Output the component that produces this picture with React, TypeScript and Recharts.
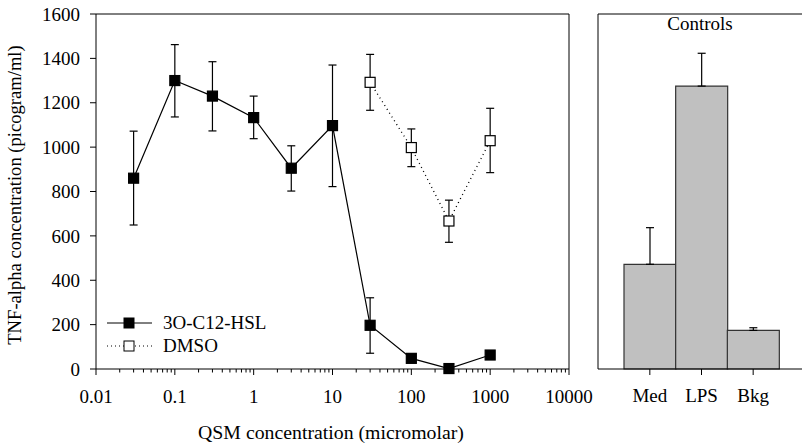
import {
    Bar,
    BarChart,
    ComposedChart,
    ErrorBar,
    Line,
    ReferenceLine,
    XAxis,
    YAxis,
} from "recharts";

// QSM concentrations (micromolar)
const hslConc = [0.03, 0.1, 0.3, 1, 3, 10, 30, 100, 300, 1000];
const hslMean = [860, 1300, 1230, 1133, 905, 1097, 197, 48, 2, 63];
const hslUpper = [1072, 1462, 1385, 1230, 1006, 1370, 321, 48, 2, 63];
const hslLower = [649, 1136, 1073, 1038, 802, 822, 71, 48, 2, 63];

const dmsoConc = [30, 100, 300, 1000];
const dmsoMean = [1292, 998, 667, 1029];
const dmsoUpper = [1418, 1082, 761, 1175];
const dmsoLower = [1166, 912, 571, 885];

const controlNames = ["Med", "LPS", "Bkg"];
const controlMean = [472, 1275, 174];
const controlUpper = [637, 1423, 186];

const yTicks = [0, 200, 400, 600, 800, 1000, 1200, 1400, 1600];
const xMajor = [0.01, 0.1, 1, 10, 100, 1000, 10000];
const xMajorLabels = ["0.01", "0.1", "1", "10", "100", "1000", "10000"];

const FONT = "Liberation Serif";

const xTicks = xMajor.flatMap((d, i) =>
    i === xMajor.length - 1 ? [d] : [1, 2, 3, 4, 5, 6, 7, 8, 9].map((m) => Number((m * d).toPrecision(3)))
);

const hslData = hslConc.map((c, i) => ({
    x: c,
    y: hslMean[i],
    err: [hslMean[i] - hslLower[i], hslUpper[i] - hslMean[i]],
}));

const dmsoData = dmsoConc.map((c, i) => ({
    x: c,
    y: dmsoMean[i],
    err: [dmsoMean[i] - dmsoLower[i], dmsoUpper[i] - dmsoMean[i]],
}));

const controlData = controlNames.map((n, i) => ({
    name: n,
    value: controlMean[i],
    err: [0, controlUpper[i] - controlMean[i]],
}));

const txt = { fontSize: 19, fontFamily: FONT, fill: "#000" };

function SquareDot({ cx, cy, fill }: { cx?: number; cy?: number; fill: string }) {
    if (cx == null || cy == null) return null;
    return <rect x={cx - 5} y={cy - 5} width={10} height={10} fill={fill} stroke="#000" strokeWidth={1.2} />;
}

function LogTick(props: any) {
    const { x, y, payload } = props;
    const idx = xMajor.findIndex((v) => Math.abs(v - payload.value) / v < 1e-6);
    const major = idx >= 0;
    return (
        <g>
            <line x1={x} x2={x} y1={y} y2={y + (major ? 6 : 3.5)} stroke="#000" />
            {major && (
                <text x={x} y={y + 34} textAnchor="middle" {...txt}>
                    {xMajorLabels[idx]}
                </text>
            )}
        </g>
    );
}

export default function App() {
    return (
        <div
            style={{
                position: "absolute",
                left: 0,
                top: 0,
                width: 802,
                height: 447,
                background: "#fff",
                overflow: "hidden",
                fontFamily: FONT,
            }}
        >
            <div style={{ position: "absolute", left: 0, top: 0 }}>
                <ComposedChart width={600} height={447} margin={{ top: 14, right: 31, left: 0, bottom: 0 }}>
                    <XAxis
                        dataKey="x"
                        type="number"
                        scale="log"
                        domain={[0.01, 10000]}
                        ticks={xTicks}
                        interval={0}
                        allowDataOverflow
                        tickLine={false}
                        tickSize={0}
                        tickMargin={0}
                        tick={<LogTick />}
                        height={78}
                        stroke="#000"
                    />
                    <YAxis
                        type="number"
                        domain={[0, 1600]}
                        ticks={yTicks}
                        interval={0}
                        width={96}
                        tickSize={6}
                        tickMargin={10}
                        stroke="#000"
                        tick={txt}
                    />
                    <ReferenceLine y={1600} stroke="#000" />
                    <ReferenceLine x={10000} stroke="#000" />
                    <Line
                        data={dmsoData}
                        dataKey="y"
                        stroke="#000"
                        strokeWidth={1.3}
                        strokeDasharray="1 3.5"
                        dot={<SquareDot fill="#fff" />}
                        activeDot={false}
                        isAnimationActive={false}
                    >
                        <ErrorBar dataKey="err" direction="y" width={4} stroke="#000" strokeWidth={1.2} />
                    </Line>
                    <Line
                        data={hslData}
                        dataKey="y"
                        stroke="#000"
                        strokeWidth={1.2}
                        dot={<SquareDot fill="#000" />}
                        activeDot={false}
                        isAnimationActive={false}
                    >
                        <ErrorBar dataKey="err" direction="y" width={4} stroke="#000" strokeWidth={1.2} />
                    </Line>
                    {/* legend */}
                    <g>
                        <line x1={107} x2={152} y1={323} y2={323} stroke="#000" />
                        <rect x={124} y={318} width={10} height={10} fill="#000" stroke="#000" />
                        <text x={163} y={329} {...txt}>3O-C12-HSL</text>
                        <line x1={107} x2={152} y1={346} y2={346} stroke="#000" strokeDasharray="1 3" />
                        <rect x={124} y={341} width={10} height={10} fill="#fff" stroke="#000" />
                        <text x={163} y={352} {...txt}>DMSO</text>
                    </g>
                    <text x={331} y={439} textAnchor="middle" {...txt} fontSize={19.8}>
                        QSM concentration (micromolar)
                    </text>
                    <text x={21} y={195} textAnchor="middle" transform="rotate(-90 21 195)" {...txt} fontSize={18.6}>
                        TNF-alpha concentration (picogram/ml)
                    </text>
                </ComposedChart>
            </div>
            <div style={{ position: "absolute", left: 540, top: 0 }}>
                <BarChart
                    width={270}
                    height={447}
                    data={controlData}
                    margin={{ top: 14, right: 0, left: 0, bottom: 0 }}
                    barCategoryGap={0}
                    barGap={0}
                >
                    <XAxis
                        dataKey="name"
                        height={78}
                        padding={{ left: 26, right: 31 }}
                        tickSize={6}
                        tickMargin={14}
                        stroke="#000"
                        tick={txt}
                    />
                    <YAxis
                        type="number"
                        domain={[0, 1600]}
                        ticks={yTicks}
                        interval={0}
                        width={58}
                        tickSize={6}
                        tick={false}
                        stroke="#000"
                    />
                    <ReferenceLine y={1600} stroke="#000" />
                    <Bar dataKey="value" fill="#c0c0c0" stroke="#333" strokeWidth={1.2} isAnimationActive={false}>
                        <ErrorBar dataKey="err" direction="y" width={4} stroke="#000" strokeWidth={1.2} />
                    </Bar>
                    <text x={160} y={30} textAnchor="middle" {...txt}>
                        Controls
                    </text>
                </BarChart>
            </div>
        </div>
    );
}
